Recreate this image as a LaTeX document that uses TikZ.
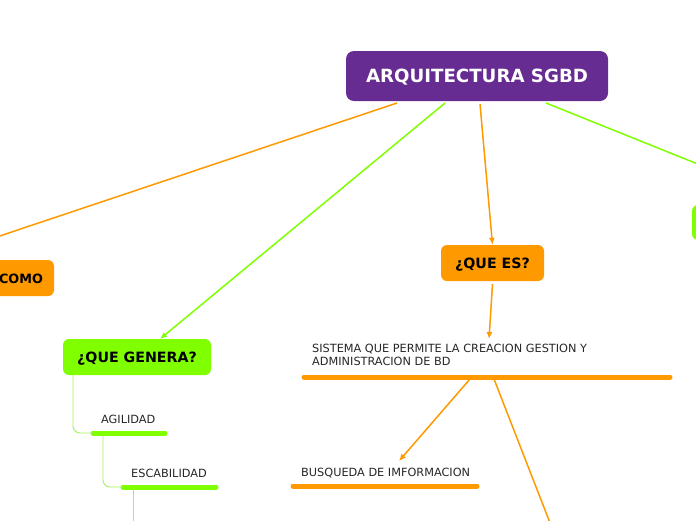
\documentclass[tikz,border=0pt]{standalone}
\usepackage{fontspec}
\setmainfont{DejaVu Sans}
\usetikzlibrary{arrows.meta}
\definecolor{rootc}{HTML}{662C91}
\definecolor{orgc}{HTML}{FF9900}
\definecolor{grnc}{HTML}{80FF00}
\definecolor{thinc}{HTML}{A8F060}
\tikzset{
  box/.style={rounded corners=6pt, minimum height=36pt, inner xsep=14pt, text depth=0pt, font=\bfseries\fontsize{14.2}{16}\selectfont, text=black},
  obox/.style={box, fill=orgc},
  gbox/.style={box, fill=grnc},
  lab/.style={font=\fontsize{11.3}{13}\selectfont, align=left, inner sep=0pt, text=black!85},
  bar/.style={line width=5pt, line cap=round},
  oarr/.style={draw=orgc, line width=1.5pt, -{Latex[length=7pt,width=6pt]}},
  garr/.style={draw=grnc, line width=1.5pt, -{Latex[length=7pt,width=6pt]}},
  thin/.style={draw=thinc, line width=0.9pt, rounded corners=7pt},
}
\begin{document}
\begin{tikzpicture}[x=1pt,y=-1pt]
\useasboundingbox (0,0) rectangle (696,520);
\clip (0,0) rectangle (696,520);
% root
\node[box, fill=rootc, text=white, minimum width=262pt, minimum height=50pt, rounded corners=8pt, font=\bfseries\fontsize{18.2}{20}\selectfont] (root) at (477,76) {ARQUITECTURA SGBD};
% nodes
\fill[orgc, rounded corners=6pt] (-30,260) rectangle (54,296);
\node[box, font=\bfseries\fontsize{12.8}{15}\selectfont, inner sep=0pt, minimum height=0pt] (como) at (21,278.5) {COMO};
\node[gbox, minimum width=148pt] (genera) at (137,357) {¿QUE GENERA?};
\node[obox, minimum width=103pt] (es) at (492.5,263) {¿QUE ES?};
\node[gbox, minimum width=60pt, minimum height=35pt] (right) at (722,222.5) {};
% connectors from root
\coordinate (r1) at (397,103);
\coordinate (r2) at (445,103);
\coordinate (r3) at (480,104);
\coordinate (r4) at (546,103);
\coordinate (comoEnd) at (-72,260);
\coordinate (rightEnd) at (750,185);
\draw[orgc, line width=1.5pt] (r1) -- (comoEnd);
\draw[garr] (r2) -- (160,339) coordinate (gtop);
\draw[oarr] (r3) -- (es.north);
\draw[grnc, line width=1.5pt] (r4) -- (rightEnd);
% que es -> sistema
\node[lab, anchor=north west] (sis) at (312,344) {SISTEMA QUE PERMITE LA CREACION GESTION Y\\ADMINISTRACION DE BD};
\coordinate (sisL) at (304,377);
\coordinate (sisR) at (670,377);
\draw[orgc, bar] (sisL) -- (sisR);
\draw[oarr] (es.south) ++(0,3) -- (489,339);
% sistema -> busqueda
\node[lab, anchor=base west] (bus) at (301,476) {BUSQUEDA DE IMFORMACION};
\coordinate (busL) at (293,486);
\coordinate (busR) at (477,486);
\draw[orgc, bar] (busL) -- (busR);
\coordinate (s1) at (470,379);
\coordinate (s2) at (494,379);
\coordinate (busTop) at (399,461);
\coordinate (offB) at (552,528);
\draw[oarr] (s1) -- (busTop);
\draw[orgc, line width=1.5pt] (s2) -- (offB);
% genera subtree
\node[lab, anchor=base west] (agi) at (101,423) {AGILIDAD};
\coordinate (agiL) at (93,433);
\coordinate (agiR) at (165,433);
\draw[grnc, bar] (agiL) -- (agiR);
\node[lab, anchor=base west] (esc) at (131,477) {ESCABILIDAD};
\coordinate (escL) at (123,487);
\coordinate (escR) at (216,487);
\draw[grnc, bar] (escL) -- (escR);
\draw[thin] (73,375) -- (73,433) -- (agiL);
\draw[thin] (103,435) -- (103,487) -- (escL);
\draw[thin] (133,489) -- (133,525);
\end{tikzpicture}
\end{document}
